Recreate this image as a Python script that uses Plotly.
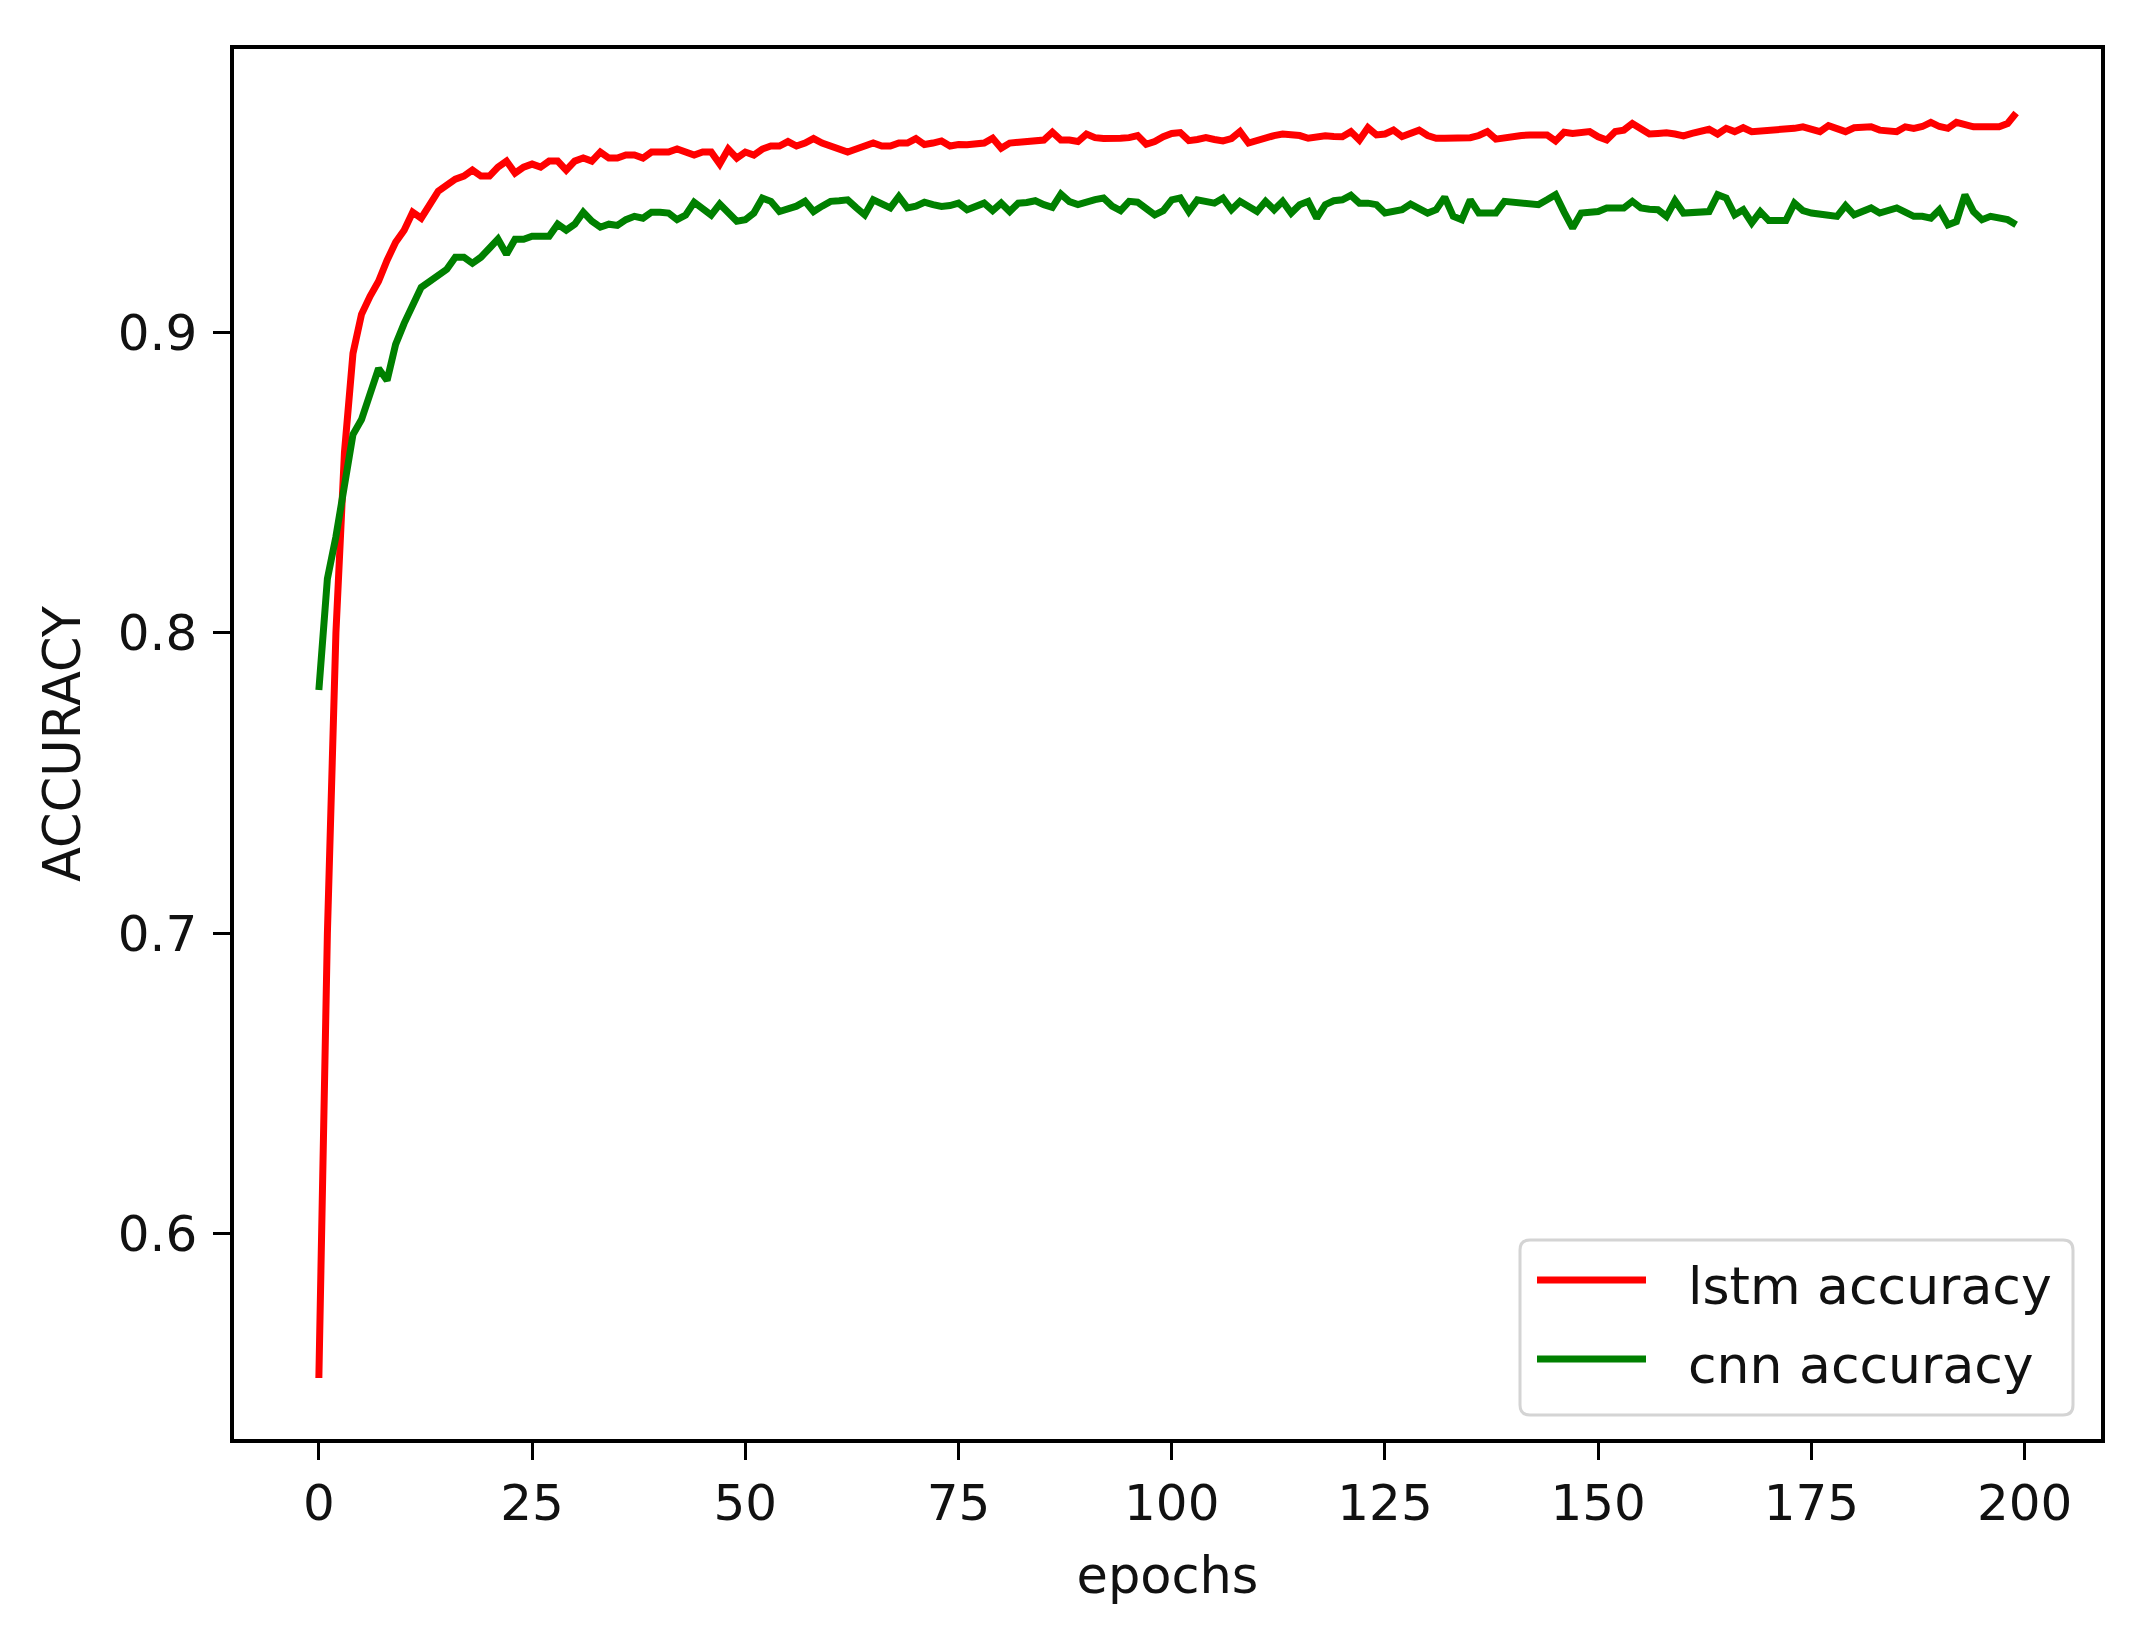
import plotly.graph_objects as go

# accuracy per epoch
epochs = list(range(200))

lstm_acc = [
    0.552, 0.700, 0.800, 0.860, 0.893, 0.906, 0.912, 0.917, 0.924, 0.930,
    0.934, 0.940, 0.938, 0.943, 0.947, 0.949, 0.951, 0.952, 0.954, 0.952,
    0.952, 0.955, 0.957, 0.953, 0.955, 0.956, 0.955, 0.957, 0.957, 0.954,
    0.957, 0.958, 0.957, 0.960, 0.958, 0.958, 0.959, 0.959, 0.958, 0.960,
    0.960, 0.960, 0.961, 0.960, 0.959, 0.960, 0.960, 0.956, 0.961, 0.958,
    0.960, 0.959, 0.961, 0.962, 0.962, 0.9635, 0.962, 0.963, 0.9645, 0.963,
    0.962, 0.961, 0.960, 0.961, 0.962, 0.963, 0.962, 0.962, 0.963, 0.963,
    0.9645, 0.9625, 0.963, 0.9637, 0.962, 0.9625, 0.9624, 0.9627, 0.963, 0.9646,
    0.9613, 0.963, 0.9632, 0.9635, 0.9637, 0.964, 0.9666, 0.964, 0.964, 0.9635,
    0.966, 0.9648, 0.9645, 0.9643, 0.9646, 0.9648, 0.9655, 0.9626, 0.9635, 0.9651,
    0.9662, 0.9665, 0.9638, 0.9642, 0.9648, 0.9642, 0.9637, 0.9645, 0.9668, 0.963,
    0.964, 0.9648, 0.9655, 0.966, 0.966, 0.9655, 0.9646, 0.9652, 0.9654, 0.9652,
    0.9651, 0.9668, 0.964, 0.9681, 0.9657, 0.966, 0.9673, 0.9652, 0.966, 0.9673,
    0.9655, 0.9646, 0.9646, 0.9646, 0.9647, 0.9648, 0.9655, 0.9668, 0.9643, 0.9648,
    0.9651, 0.9655, 0.9657, 0.9657, 0.9657, 0.9637, 0.9666, 0.9662, 0.9665, 0.9668,
    0.9651, 0.964, 0.9668, 0.9673, 0.9695, 0.9679, 0.966, 0.9662, 0.9664, 0.966,
    0.9654, 0.9662, 0.9668, 0.9676, 0.966, 0.9679, 0.9668, 0.9681, 0.9668, 0.967,
    0.967, 0.9673, 0.9676, 0.9679, 0.9684, 0.9675, 0.9668, 0.9688, 0.9675, 0.9668,
    0.9681, 0.968, 0.9684, 0.9673, 0.967, 0.9668, 0.9684, 0.9679, 0.9685, 0.9699,
    0.9685, 0.9679, 0.9699, 0.969, 0.9684, 0.9684, 0.9684, 0.9684, 0.9695, 0.973,
]

cnn_acc = [
    0.781, 0.818, 0.832, 0.850, 0.866, 0.871, 0.880, 0.888, 0.884, 0.896,
    0.903, 0.909, 0.915, 0.917, 0.919, 0.921, 0.925, 0.925, 0.923, 0.925,
    0.928, 0.931, 0.926, 0.931, 0.931, 0.932, 0.932, 0.932, 0.936, 0.934,
    0.936, 0.940, 0.937, 0.935, 0.936, 0.9356, 0.9375, 0.9386, 0.938, 0.940,
    0.940, 0.9397, 0.9375, 0.939, 0.9433, 0.9408, 0.939, 0.9427, 0.9395, 0.937,
    0.9375, 0.9397, 0.9447, 0.9436, 0.9402, 0.9411, 0.942, 0.9436, 0.9402, 0.942,
    0.9436, 0.9438, 0.9441, 0.9415, 0.9391, 0.9441, 0.943, 0.9414, 0.9452, 0.9414,
    0.942, 0.9433, 0.9425, 0.9419, 0.9422, 0.943, 0.9408, 0.942, 0.943, 0.9405,
    0.943, 0.9402, 0.943, 0.9432, 0.9438, 0.9425, 0.9416, 0.946, 0.9435, 0.9425,
    0.9436, 0.9442, 0.9447, 0.942, 0.9405, 0.9436, 0.9433, 0.9414, 0.9391, 0.9405,
    0.9441, 0.9447, 0.9402, 0.9441, 0.9435, 0.943, 0.9447, 0.9408, 0.9436, 0.942,
    0.9402, 0.9436, 0.9408, 0.9436, 0.9397, 0.9425, 0.9436, 0.938, 0.9425, 0.9438,
    0.9441, 0.9456, 0.943, 0.943, 0.9425, 0.9397, 0.940, 0.9408, 0.9427, 0.9415,
    0.9397, 0.9408, 0.945, 0.9386, 0.9375, 0.9441, 0.9397, 0.9397, 0.9397, 0.9436,
    0.9433, 0.943, 0.9428, 0.9425, 0.9441, 0.9458, 0.940, 0.9347, 0.9397, 0.940,
    0.9402, 0.9414, 0.9414, 0.9414, 0.9436, 0.9414, 0.941, 0.9408, 0.9386, 0.9438,
    0.9397, 0.940, 0.9402, 0.9402, 0.9458, 0.9447, 0.9391, 0.9408, 0.9364, 0.9402,
    0.9372, 0.9372, 0.9372, 0.943, 0.9405, 0.9397, 0.9391, 0.939, 0.9386, 0.9422,
    0.9391, 0.940, 0.9414, 0.9397, 0.9405, 0.9414, 0.940, 0.9386, 0.9386, 0.938,
    0.9408, 0.9358, 0.9369, 0.9458, 0.9402, 0.9375, 0.9386, 0.9383, 0.9375, 0.9358,
]

series_names = ["lstm accuracy", "cnn accuracy"]
series_colors = ["#ff0000", "#008000"]
x_ticks = [0, 25, 50, 75, 100, 125, 150, 175, 200]
y_ticks = [0.6, 0.7, 0.8, 0.9]

W, H = 2152, 1631
L, R, T, B = 234, 2101, 49, 1439   # plot area in pixels

FONT = "DejaVu Sans"
TXT = "#111111"


def px(x):
    return (x - L) / (R - L)


def py(y):
    return (B - y) / (B - T)


fig = go.Figure()
for name, vals, col in zip(series_names, [lstm_acc, cnn_acc], series_colors):
    fig.add_trace(go.Scatter(x=epochs, y=vals, mode="lines", name=name,
                             line=dict(color=col, width=7)))

axis_style = dict(showline=True, linecolor="black", linewidth=3.5, mirror=True,
                  ticks="outside", ticklen=17, tickwidth=3, tickcolor="black",
                  showgrid=False, zeroline=False,
                  tickfont=dict(family=FONT, size=50, color=TXT))

fig.update_xaxes(range=[-9.95, 208.95], tickvals=x_ticks,
                 title=dict(text="epochs", font=dict(family=FONT, size=51, color=TXT), standoff=28),
                 **axis_style)
fig.update_yaxes(range=[0.5317, 0.9943], tickvals=y_ticks, tickformat=".1f",
                 ticklabelstandoff=6,
                 title=dict(text="ACCURACY", font=dict(family=FONT, size=51, color=TXT), standoff=22),
                 **axis_style)

# matplotlib-style legend box, lower right
bx0, bx1, by0, by1, rad = 1520, 2073, 1240, 1415, 10
rx, ry = rad / (R - L), rad / (B - T)
x0, x1, y0, y1 = px(bx0), px(bx1), py(by1), py(by0)
box = (f"M{x0+rx},{y0} L{x1-rx},{y0} Q{x1},{y0} {x1},{y0+ry} "
       f"L{x1},{y1-ry} Q{x1},{y1} {x1-rx},{y1} L{x0+rx},{y1} "
       f"Q{x0},{y1} {x0},{y1-ry} L{x0},{y0+ry} Q{x0},{y0} {x0+rx},{y0} Z")
fig.add_shape(type="path", path=box, xref="paper", yref="paper",
              line=dict(color="#d4d4d4", width=3), fillcolor="rgba(255,255,255,0.8)")

for i, (name, col) in enumerate(zip(series_names, series_colors)):
    yy = 1280 + i * 79
    fig.add_shape(type="line", xref="paper", yref="paper",
                  x0=px(1537), x1=px(1646), y0=py(yy), y1=py(yy),
                  line=dict(color=col, width=7))
    fig.add_annotation(x=px(1686), y=py(yy + 6), xref="paper", yref="paper",
                       text=name, showarrow=False, xanchor="left", yanchor="middle",
                       font=dict(family=FONT, size=52, color=TXT))

fig.update_layout(width=W, height=H, autosize=False,
                  margin=dict(l=L, r=W - R, t=T, b=H - B, pad=0),
                  paper_bgcolor="white", plot_bgcolor="white",
                  showlegend=False, font=dict(family=FONT, color=TXT))

fig.write_html("out.html", config={"displayModeBar": False},
               post_script="document.body.style.margin='0';")
